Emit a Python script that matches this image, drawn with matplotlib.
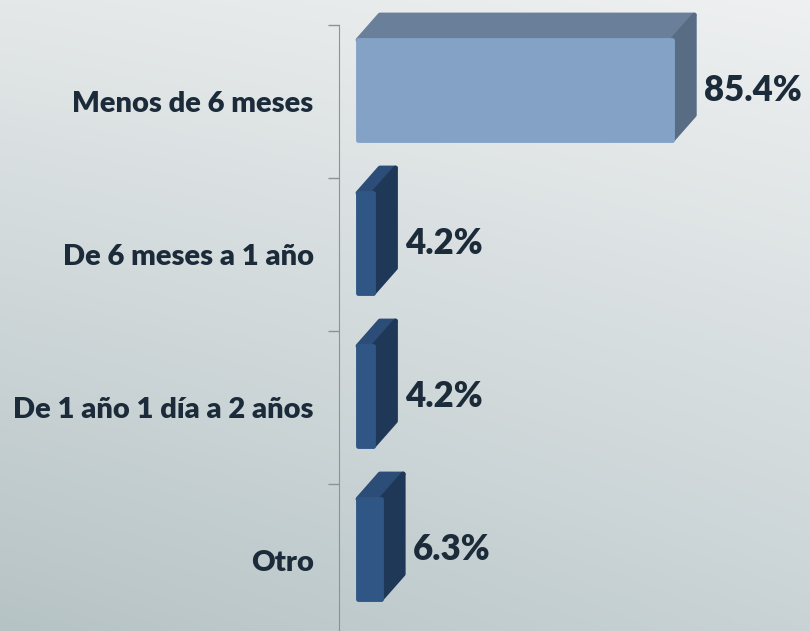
import numpy as np
from matplotlib import pyplot as plt
from matplotlib.patches import Polygon

categories = ['Menos de 6 meses', 'De 6 meses a 1 año', 'De 1 año 1 día a 2 años', 'Otro']
values = [85.4, 4.2, 4.2, 6.3]
value_labels = ['85.4%', '4.2%', '4.2%', '6.3%']

W, H = 810, 631
PX_PER_PCT = 3.68          # horizontal scale of the bars
DEPTH_X = 22 / PX_PER_PCT  # 3D depth in data units
DEPTH_Y = 25 / 153
BAR_H = 100 / 153
FRONT_SHIFT = 0.075
TEXT_COLOR = '#1c2b3a'
FONT = ['Lato', 'DejaVu Sans']

# colours: (front, top, side)
BIG = ('#84a2c6', '#6a7f99', '#586c84')
SMALL = ('#2f5685', '#2b4d78', '#1f3858')

fig = plt.figure(figsize=(W / 100, H / 100), dpi=100)

# background gradient from corner colours
tl, tr = np.array([0xe4, 0xe8, 0xe9]), np.array([0xee, 0xf0, 0xf1])
bl, br = np.array([0xb6, 0xc3, 0xc5]), np.array([0xc9, 0xd3, 0xd5])
yy, xx = np.mgrid[0:1:200j, 0:1:200j]
grad = ((1 - yy)[..., None] * ((1 - xx)[..., None] * tl + xx[..., None] * tr)
        + yy[..., None] * ((1 - xx)[..., None] * bl + xx[..., None] * br)) / 255
bg = fig.add_axes([0, 0, 1, 1], zorder=0)
bg.imshow(grad, extent=[0, 1, 0, 1], aspect='auto', origin='upper')
bg.axis('off')

ax_left, ax_right = 358, 760
ax_top, ax_bot = 25, 637
ax = fig.add_axes([ax_left / W, (H - ax_bot) / H, (ax_right - ax_left) / W, (ax_bot - ax_top) / H],
                  zorder=1)
ax.patch.set_alpha(0)
ax.set_xlim(0, (ax_right - ax_left) / PX_PER_PCT)
ax.set_ylim(len(categories) - 0.5, -0.5)

for k, (v, lab) in enumerate(zip(values, value_labels)):
    front_c, top_c, side_c = BIG if v > 50 else SMALL
    yc = k - FRONT_SHIFT
    yt, yb = yc - BAR_H / 2, yc + BAR_H / 2
    faces = [
        ([(0, yt), (v, yt), (v + DEPTH_X, yt - DEPTH_Y), (DEPTH_X, yt - DEPTH_Y)], top_c),
        ([(v, yt), (v, yb), (v + DEPTH_X, yb - DEPTH_Y), (v + DEPTH_X, yt - DEPTH_Y)], side_c),
        ([(0, yt), (v, yt), (v, yb), (0, yb)], front_c),
    ]
    for pts, c in faces:
        ax.add_patch(Polygon(pts, closed=True, facecolor=c, edgecolor=c, lw=3.5,
                             joinstyle='round', clip_on=False))
    ax.annotate(lab, (v + DEPTH_X, yc), xytext=(7, 0), textcoords='offset points',
                ha='left', va='center', fontsize=25, fontweight='heavy',
                color=TEXT_COLOR, family=FONT)

for s in ['top', 'right', 'bottom']:
    ax.spines[s].set_visible(False)
ax.spines['left'].set_position(('outward', 14))
ax.spines['left'].set_color('#8c9296')
ax.set_xticks([])
ax.set_yticks(np.arange(len(categories)) - 0.5)
ax.set_yticklabels([])
ax.tick_params(axis='y', which='major', length=8, color='#8c9296', width=1)
ax.set_yticks(np.arange(len(categories)), minor=True)
ax.set_yticklabels(categories, minor=True, fontsize=21, fontweight='heavy',
                   color=TEXT_COLOR, family=FONT)
ax.tick_params(axis='y', which='minor', length=0, pad=18)

fig.savefig('out.png', dpi=100)
